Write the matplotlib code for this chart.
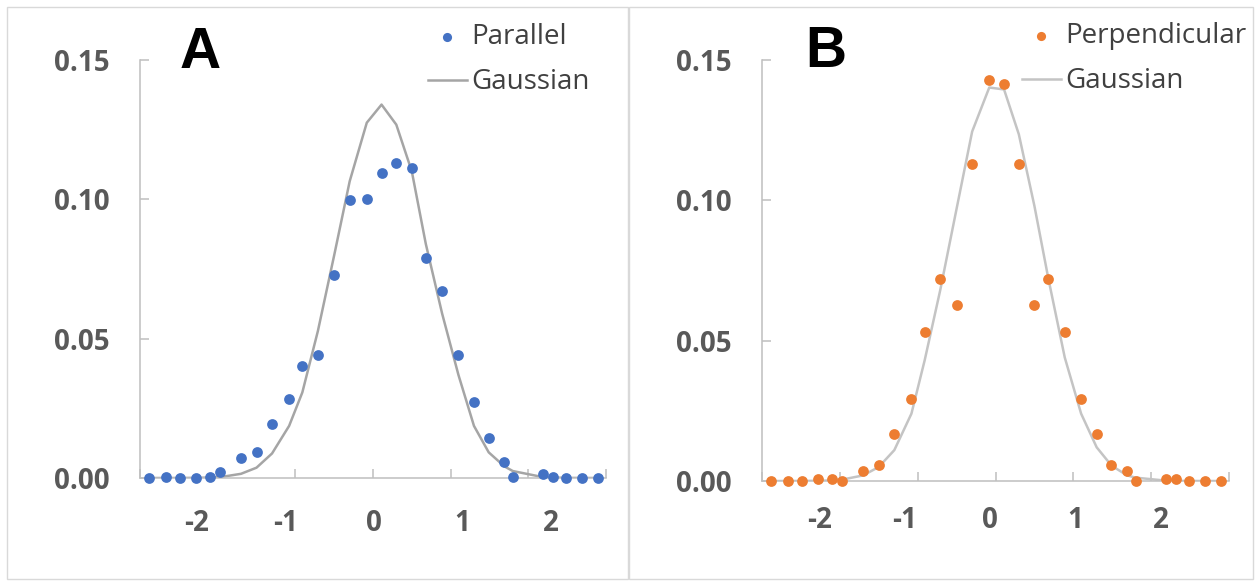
import matplotlib
matplotlib.use("Agg")
import matplotlib.pyplot as plt
from matplotlib.patches import Rectangle
from matplotlib.ticker import FormatStrFormatter

plt.rcParams['font.family'] = ['Open Sans', 'DejaVu Sans']
plt.rcParams['axes.unicode_minus'] = False

# x positions of the bins (same for both panels)
x_vals = [-2.88, -2.66, -2.48, -2.28, -2.10, -1.97, -1.70, -1.50, -1.30, -1.08,
          -0.91, -0.71, -0.50, -0.30, -0.08, 0.11, 0.30, 0.50, 0.68, 0.89,
          1.10, 1.30, 1.49, 1.69, 1.80, 2.19, 2.32, 2.49, 2.69, 2.90]

parallel = [0, 0.0005, 0, 0, 0.0005, 0.002, 0.007, 0.0092, 0.0193, 0.0283,
            0.0403, 0.0440, 0.0727, 0.0999, 0.1001, 0.1095, 0.1130, 0.1114, 0.0791, 0.0671,
            0.0440, 0.0271, 0.0144, 0.0058, 0.0005, 0.0014, 0.0005, 0, 0, 0]
gauss_a = [0, 0, 0.00001, 0.00005, 0.00015, 0.0003, 0.0015, 0.0037, 0.0088, 0.0187,
           0.0307, 0.0527, 0.0799, 0.1065, 0.1275, 0.134, 0.1268, 0.110, 0.084, 0.059,
           0.037, 0.0187, 0.0092, 0.0042, 0.0025, 0.0003, 0.00015, 0.00004, 0.00001, 0]

perpendicular = [0, 0, 0, 0.0007, 0.0007, 0, 0.0037, 0.0057, 0.0168, 0.0293,
                 0.0532, 0.0721, 0.0628, 0.1131, 0.1429, 0.1416, 0.1131, 0.0628, 0.0721, 0.0532,
                 0.0293, 0.0168, 0.0057, 0.0037, 0, 0.0007, 0.0007, 0, 0, 0]
gauss_b = [0, 0, 0.00002, 0.00008, 0.0002, 0.0005, 0.002, 0.005, 0.011, 0.024,
           0.043, 0.068, 0.097, 0.1245, 0.1402, 0.1395, 0.1235, 0.098, 0.072, 0.044,
           0.024, 0.012, 0.0055, 0.002, 0.0012, 0.00012, 0.00006, 0.00002, 0, 0]

y_ticks = [0, 0.05, 0.10, 0.15]
x_ticks = [-3, -2, -1, 0, 1, 2, 3]
x_labels = [-2, -1, 0, 1, 2]

W, H = 1256, 581
fig = plt.figure(figsize=(W / 100, H / 100), dpi=100)

# panel frames
fig.add_artist(Rectangle((7 / W, 1 - 579 / H), 621 / W, 572 / H, transform=fig.transFigure,
                         fill=False, ec='#d9d9d9', lw=1))
fig.add_artist(Rectangle((629 / W, 1 - 579 / H), 624 / W, 572 / H, transform=fig.transFigure,
                         fill=False, ec='#d9d9d9', lw=1))


def panel(rect, ys, gs, dot_color, line_color, name, letter, letter_pos, leg_pos,
          lab_lim, lab_pad):
    ax = fig.add_axes(rect)
    line, = ax.plot(x_vals, gs, color=line_color, lw=1.8, zorder=2, label='Gaussian')
    sc = ax.scatter(x_vals, ys, s=60, color=dot_color, linewidths=0, zorder=3,
                    clip_on=False, label=name)
    ax.set_xlim(-3, 3)
    ax.set_ylim(0, 0.15)
    ax.set_yticks(y_ticks)
    ax.yaxis.set_major_formatter(FormatStrFormatter('%.2f'))
    ax.set_xticks(x_ticks)
    ax.set_xticklabels([])
    for s in ['top', 'right']:
        ax.spines[s].set_visible(False)
    for s in ['left', 'bottom']:
        ax.spines[s].set_color('#bfbfbf')
        ax.spines[s].set_linewidth(1.1)
    ax.tick_params(direction='in', length=6.5, width=1.1, color='#bfbfbf')
    ax.tick_params(axis='y', pad=22, labelsize=20, labelcolor='#595959')
    for t in ax.get_yticklabels():
        t.set_fontweight('bold')

    # tick labels for the horizontal axis
    ax2 = ax.twiny()
    ax2.set_xlim(*lab_lim)
    ax2.set_xticks(x_labels)
    ax2.xaxis.set_ticks_position('bottom')
    ax2.tick_params(axis='x', length=0, pad=lab_pad, labelsize=20, labelcolor='#595959')
    for t in ax2.get_xticklabels():
        t.set_fontweight('bold')
    for s in ax2.spines.values():
        s.set_visible(False)

    ax2.legend([sc, line], [name, 'Gaussian'], loc='upper left',
               bbox_to_anchor=(leg_pos[0] / W, 1 - leg_pos[1] / H),
               bbox_transform=fig.transFigure, frameon=False, fontsize=20,
               labelcolor='#404040', handlelength=1.4, handletextpad=0.15,
               borderpad=0, borderaxespad=0, labelspacing=0.62,
               markerscale=0.85, scatterpoints=1)

    fig.text(letter_pos[0] / W, 1 - letter_pos[1] / H, letter, fontsize=41,
             fontweight='bold', family='Liberation Sans', va='baseline', ha='left')
    return ax


panel([140 / W, 1 - 478 / H, 466 / W, 418 / H], parallel, gauss_a,
      '#4472c4', '#a5a5a5', 'Parallel', 'A', (180, 68), (428, 23),
      (-2.64, 2.62), 22)
panel([762 / W, 1 - 481 / H, 467 / W, 421 / H], perpendicular, gauss_b,
      '#ed7d31', '#c4c4c4', 'Perpendicular', 'B', (805, 67), (1022, 22),
      (-2.67, 2.80), 18)

fig.savefig('out.png', dpi=100)
